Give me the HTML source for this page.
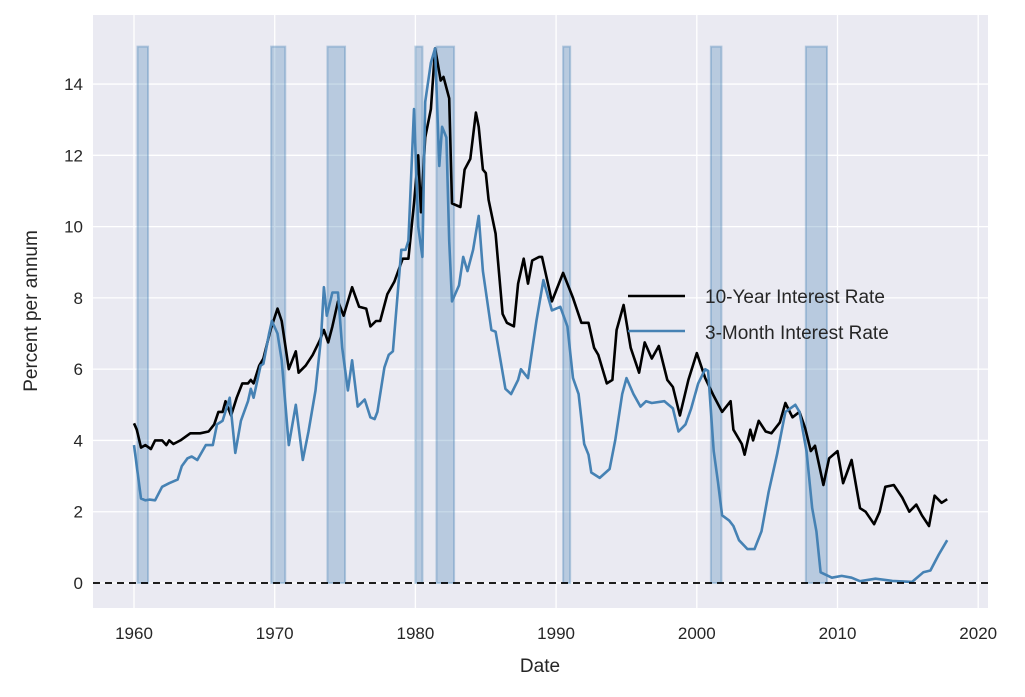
<!DOCTYPE html>
<html><head><meta charset="utf-8"><style>
body{margin:0;background:#fff;}
svg{display:block;font-family:"Liberation Sans",sans-serif;}
</style></head><body>
<svg id="chart" width="1025" height="697">
<rect x="93" y="15" width="895" height="593" fill="#eaeaf2"/>
<g id="grid"></g><g id="bands"></g><g id="lines"></g><g id="ticks"></g>
<line x1="93" x2="988" id="zero" stroke="#000" stroke-width="1.8" stroke-dasharray="7,5"/>
<text x="540" y="672" text-anchor="middle" font-size="19" fill="#262626">Date</text>
<text transform="translate(37,311) rotate(-90)" text-anchor="middle" font-size="19" fill="#262626">Percent per annum</text>
<g>
<line x1="628" x2="685" y1="296" y2="296" stroke="#000" stroke-width="2.6"/>
<text x="705" y="303" font-size="19" fill="#262626">10-Year Interest Rate</text>
<line x1="628" x2="685" y1="331" y2="331" stroke="#4682b4" stroke-width="2.6"/>
<text x="705" y="339" font-size="19" fill="#262626">3-Month Interest Rate</text>
</g>
</svg>
<script>
const xTicks=[1960,1970,1980,1990,2000,2010,2020];
const yTicks=[0,2,4,6,8,10,12,14];
const recessions=[[1960.25,1961.0],[1969.75,1970.75],[1973.75,1975.0],[1980.0,1980.5],[1981.5,1982.75],[1990.5,1991.0],[2001.0,2001.75],[2007.75,2009.25]];
const recessionTop=15.05;
const tenYear=[[1960,4.48],[1960.2,4.3],[1960.5,3.8],[1960.8,3.87],[1961.2,3.76],[1961.5,4.0],[1962,4.0],[1962.3,3.87],[1962.5,4.0],[1962.8,3.9],[1963.3,4.0],[1964,4.2],[1964.7,4.2],[1965.3,4.25],[1965.7,4.45],[1966,4.8],[1966.3,4.8],[1966.5,5.1],[1966.9,4.7],[1967.3,5.2],[1967.7,5.6],[1968.1,5.6],[1968.3,5.7],[1968.5,5.6],[1968.9,6.1],[1969.2,6.3],[1969.7,7.1],[1970.2,7.7],[1970.5,7.35],[1971,6.0],[1971.5,6.5],[1971.7,5.9],[1972.2,6.1],[1972.7,6.4],[1973.2,6.8],[1973.5,7.1],[1973.8,6.75],[1974.1,7.2],[1974.5,7.9],[1974.9,7.5],[1975.5,8.3],[1976,7.75],[1976.5,7.7],[1976.8,7.2],[1977.2,7.35],[1977.5,7.35],[1978,8.1],[1978.5,8.45],[1979.1,9.1],[1979.5,9.1],[1979.9,10.65],[1980.2,12.0],[1980.4,10.4],[1980.7,12.5],[1981.1,13.3],[1981.4,15.0],[1981.8,14.1],[1982,14.2],[1982.4,13.6],[1982.6,10.65],[1983.2,10.55],[1983.5,11.6],[1983.9,11.9],[1984.3,13.2],[1984.5,12.8],[1984.8,11.6],[1985,11.5],[1985.2,10.75],[1985.7,9.8],[1986.2,7.55],[1986.5,7.3],[1987,7.2],[1987.3,8.4],[1987.7,9.1],[1988,8.4],[1988.3,9.05],[1988.8,9.15],[1989.0,9.15],[1989.7,7.9],[1990.5,8.7],[1991.2,8.0],[1991.8,7.3],[1992.3,7.3],[1992.7,6.6],[1993,6.4],[1993.6,5.6],[1994,5.7],[1994.3,7.1],[1994.8,7.8],[1995.3,6.6],[1995.9,5.9],[1996.3,6.75],[1996.8,6.3],[1997.3,6.65],[1997.9,5.7],[1998.3,5.5],[1998.8,4.7],[1999.4,5.7],[2000,6.45],[2000.6,5.75],[2001.2,5.25],[2001.8,4.8],[2002.4,5.1],[2002.6,4.3],[2003.2,3.9],[2003.4,3.6],[2003.8,4.3],[2004,4.0],[2004.4,4.55],[2004.9,4.25],[2005.3,4.2],[2005.9,4.5],[2006.3,5.05],[2006.8,4.65],[2007.3,4.8],[2007.7,4.35],[2008.1,3.7],[2008.4,3.85],[2009,2.75],[2009.4,3.5],[2010,3.7],[2010.4,2.8],[2011,3.45],[2011.6,2.1],[2012,2.0],[2012.6,1.65],[2013,2.0],[2013.4,2.7],[2014,2.75],[2014.6,2.4],[2015.1,2.0],[2015.6,2.2],[2016,1.9],[2016.5,1.6],[2016.9,2.45],[2017.4,2.25],[2017.8,2.35]];
const threeMonth=[[1960,3.87],[1960.5,2.37],[1960.8,2.32],[1961.1,2.34],[1961.5,2.32],[1962,2.7],[1962.5,2.8],[1963.1,2.9],[1963.4,3.28],[1963.8,3.5],[1964.1,3.55],[1964.5,3.45],[1965.1,3.87],[1965.6,3.87],[1965.9,4.45],[1966.3,4.55],[1966.8,5.2],[1967.2,3.65],[1967.6,4.55],[1968.1,5.1],[1968.3,5.45],[1968.5,5.2],[1969,6.1],[1969.2,6.15],[1969.6,7.0],[1969.8,7.35],[1970.2,7.0],[1970.5,6.25],[1971,3.87],[1971.5,5.0],[1972,3.45],[1972.4,4.25],[1972.9,5.4],[1973.3,6.9],[1973.5,8.3],[1973.7,7.5],[1974.1,8.15],[1974.5,8.15],[1974.8,6.6],[1975.2,5.4],[1975.5,6.25],[1975.9,4.95],[1976.4,5.15],[1976.8,4.65],[1977.1,4.6],[1977.3,4.8],[1977.8,6.05],[1978.1,6.4],[1978.4,6.5],[1978.6,7.45],[1979,9.35],[1979.3,9.35],[1979.5,9.6],[1979.9,13.3],[1980.2,10.0],[1980.5,9.15],[1980.7,13.5],[1981.1,14.6],[1981.4,15.0],[1981.7,11.7],[1981.9,12.8],[1982.2,12.5],[1982.4,9.6],[1982.6,7.9],[1983.1,8.35],[1983.4,9.15],[1983.7,8.75],[1984.1,9.35],[1984.5,10.3],[1984.8,8.75],[1985.4,7.1],[1985.7,7.05],[1986.4,5.45],[1986.8,5.3],[1987.3,5.7],[1987.5,6.0],[1988,5.75],[1988.6,7.35],[1989.1,8.5],[1989.7,7.65],[1990.3,7.75],[1990.8,7.2],[1991.2,5.75],[1991.6,5.3],[1992,3.9],[1992.3,3.6],[1992.5,3.1],[1993.1,2.95],[1993.8,3.2],[1994.2,4.0],[1994.7,5.3],[1995,5.75],[1995.5,5.3],[1996,4.95],[1996.4,5.1],[1996.8,5.05],[1997.7,5.1],[1998.3,4.9],[1998.7,4.25],[1999.2,4.45],[1999.6,4.9],[2000.1,5.6],[2000.6,6.0],[2000.8,5.95],[2001.2,3.7],[2001.5,2.85],[2001.8,1.9],[2002.3,1.75],[2002.6,1.6],[2003,1.2],[2003.6,0.95],[2004.1,0.95],[2004.6,1.45],[2005.1,2.55],[2005.7,3.6],[2006.3,4.8],[2007,5.0],[2007.3,4.8],[2007.8,3.7],[2008.2,2.1],[2008.5,1.45],[2008.8,0.3],[2009.6,0.15],[2010.3,0.2],[2011,0.15],[2011.6,0.05],[2012.7,0.12],[2013.9,0.06],[2015.3,0.03],[2016.1,0.3],[2016.6,0.35],[2017.2,0.8],[2017.8,1.2]];

const NS="http://www.w3.org/2000/svg";
const X=v=>134+(v-1960)*14.07;
const Y=v=>583-v*35.64;
function mk(tag,attrs,parent){const e=document.createElementNS(NS,tag);for(const k in attrs)e.setAttribute(k,attrs[k]);document.getElementById(parent).appendChild(e);return e;}
yTicks.forEach(t=>{
  const g=mk('line',{x1:93,x2:988,y1:Y(t),y2:Y(t),stroke:'#fff','stroke-width':1.3},'grid');
  
  
  const l=mk('text',{x:83,y:Y(t)+6,'text-anchor':'end','font-size':17,fill:'#262626'},'ticks');
  l.textContent=t;
  
  
});
xTicks.forEach(t=>{
  const g=mk('line',{x1:X(t),x2:X(t),y1:15,y2:608,stroke:'#fff','stroke-width':1.3},'grid');
  
  
  const l=mk('text',{x:X(t),y:639,'text-anchor':'middle','font-size':17,fill:'#262626'},'ticks');
  l.textContent=t;
  
  
});
recessions.forEach(r=>{
  const b=mk('rect',{x:X(r[0]),y:Y(recessionTop),width:X(r[1])-X(r[0]),height:Y(0)-Y(recessionTop),fill:'rgba(70,130,180,0.3)',stroke:'rgba(70,130,180,0.35)','stroke-width':2},'bands');
  
  
});
function line(data,color,name){
  const p=mk('path',{d:data.map((d,i)=>(i?'L':'M')+X(d[0]).toFixed(1)+','+Y(d[1]).toFixed(1)).join(''),fill:'none',stroke:color,'stroke-width':2.6,'stroke-linejoin':'round'},'lines');
  
  
}
line(tenYear,'#000','line-10-year');
line(threeMonth,'#4682b4','line-3-month');
const z=document.getElementById('zero');z.setAttribute('y1',Y(0));z.setAttribute('y2',Y(0));
</script>
</body></html>
